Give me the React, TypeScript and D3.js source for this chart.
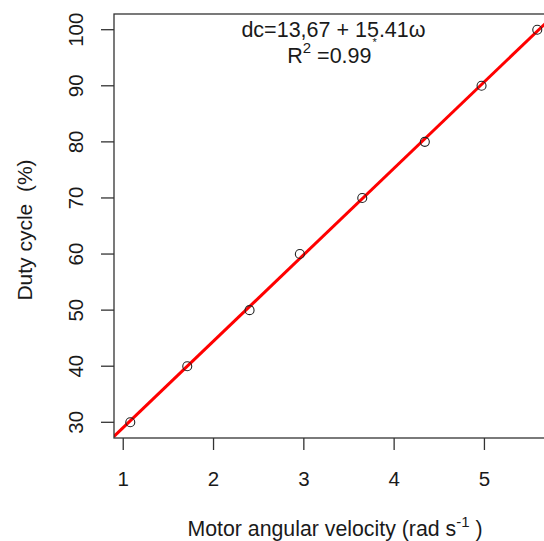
import React from "react";
import * as d3 from "d3";

const omega = [1.078, 1.709, 2.399, 2.956, 3.647, 4.34, 4.968, 5.585];
const dutyCycle = [30, 40, 50, 60, 70, 80, 90, 100];
const xTicks = [1, 2, 3, 4, 5];
const yTicks = [30, 40, 50, 60, 70, 80, 90, 100];
const intercept = 13.67;
const slope = 15.41;

const W = 544;
const H = 541;
const FONT = "Liberation Sans, Arial, sans-serif";

export default function App() {
  const xMin = d3.min(omega)!, xMax = d3.max(omega)!;
  const yMin = d3.min(dutyCycle)!, yMax = d3.max(dutyCycle)!;
  const xe = (xMax - xMin) * 0.04;
  const ye = (yMax - yMin) * 0.04;
  const left = 114, top = 14, bottom = 438;
  const pxPerX = 90.3;
  const right = left + (xMax + xe - (xMin - xe)) * pxPerX;
  const x = d3.scaleLinear().domain([xMin - xe, xMax + xe]).range([left, right]);
  const y = d3.scaleLinear().domain([yMin - ye, yMax + ye]).range([bottom, top]);
  const [d0, d1] = x.domain();
  const lineGen = d3.line<number>().x((v) => x(v)).y((v) => y(intercept + slope * v));
  const txt = "#1a1a1a";

  return (
    <svg width={W} height={H} style={{ position: "absolute", left: 0, top: 0 }} fontFamily={FONT}>
      <defs>
        <clipPath id="plotclip">
          <rect x={left} y={top} width={right - left} height={bottom - top} />
        </clipPath>
      </defs>
      <rect x={0} y={0} width={W} height={H} fill="#fff" />
      <g clipPath="url(#plotclip)">
        <path d={lineGen([d0, d1]) || ""} stroke="#ff0000" strokeWidth={3} fill="none" />
      </g>
      {omega.map((v, i) => (
        <circle key={i} cx={x(v)} cy={y(dutyCycle[i])} r={4.5} fill="none" stroke="#222" strokeWidth={1.1} />
      ))}
      <rect x={left} y={top} width={right - left} height={bottom - top} fill="none" stroke="#333" strokeWidth={1.3} />
      {xTicks.map((t) => (
        <g key={t}>
          <line x1={x(t)} x2={x(t)} y1={bottom} y2={bottom + 12} stroke="#333" strokeWidth={1.3} />
          <text x={x(t)} y={486} textAnchor="middle" fontSize={20.5} fill={txt}>{t}</text>
        </g>
      ))}
      {yTicks.map((t) => (
        <g key={t}>
          <line x1={left - 13} x2={left} y1={y(t)} y2={y(t)} stroke="#333" strokeWidth={1.3} />
          <text transform={`translate(83,${y(t)}) rotate(-90)`} textAnchor="middle" fontSize={20.5} fill={txt}>{t}</text>
        </g>
      ))}
      <text x={335} y={536} textAnchor="middle" fontSize={21.3} fill={txt}>
        Motor angular velocity (rad s
        <tspan dy={-9} fontSize={15}>-1</tspan>
        <tspan dy={9}> )</tspan>
      </text>
      <text transform={`translate(32,230) rotate(-90)`} textAnchor="middle" fontSize={21} fill={txt} xmlSpace="preserve">
        Duty cycle  (%)
      </text>
      <text x={333.5} y={37} textAnchor="middle" fontSize={21.5} fill={txt}>dc=13,67 + 15.41ω</text>
      <text x={332} y={63} textAnchor="middle" fontSize={21.5} fill={txt} xmlSpace="preserve">
        R<tspan dy={-10} fontSize={15}>2</tspan><tspan dy={10}> =0.99</tspan><tspan dx={1} dy={-17} fontSize={11}>*</tspan>
      </text>
    </svg>
  );
}
